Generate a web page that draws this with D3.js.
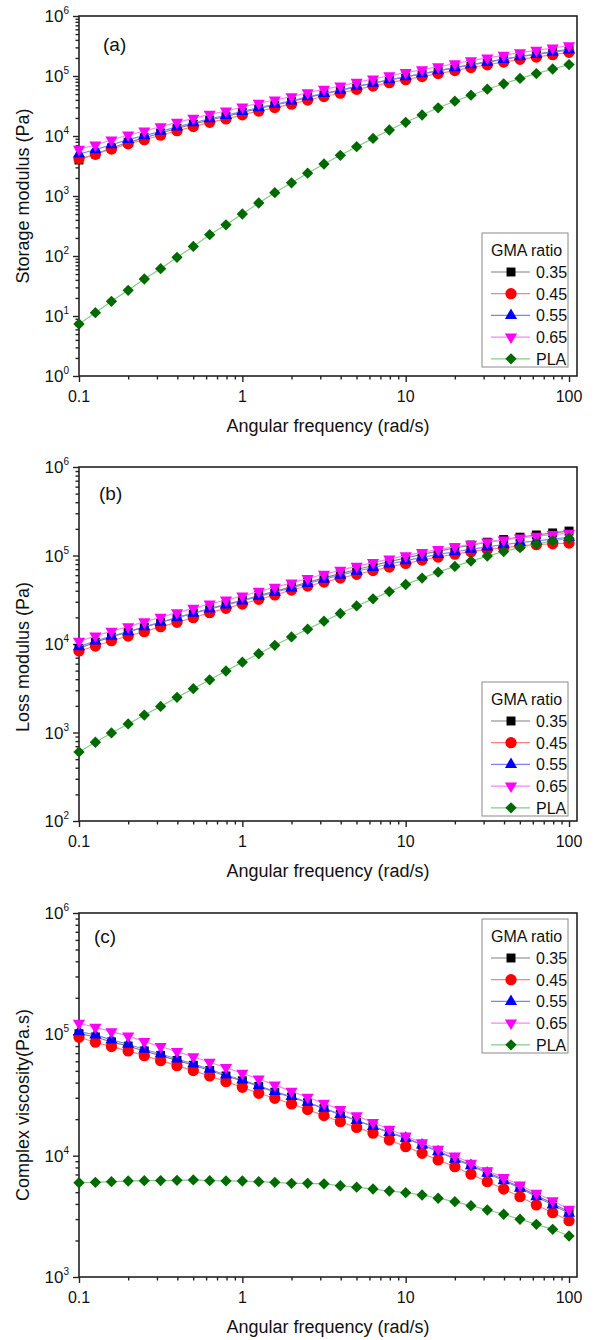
<!DOCTYPE html>
<html>
<head>
<meta charset="utf-8">
<script src="https://cdn.jsdelivr.net/npm/d3@7"></script>
<style>
  body { margin: 0; background: #fff; }
  svg { font-family: "Liberation Sans", Arial, sans-serif; display: block; }
</style>
</head>
<body>
<svg id="chart"></svg>
<script>
// Dynamic frequency sweeps of PLA / GMA blends: G', G'' and |eta*| vs angular frequency

const width = 594, height = 1340;

// angular frequency (rad/s), 10 points per decade
const freq = [0.1, 0.126, 0.158, 0.2, 0.251, 0.316, 0.398, 0.501, 0.631, 0.794,
  1, 1.26, 1.58, 2, 2.51, 3.16, 3.98, 5.01, 6.31, 7.94,
  10, 12.6, 15.8, 20, 25.1, 31.6, 39.8, 50.1, 63.1, 79.4, 100];

const seriesNames = ["0.35", "0.45", "0.55", "0.65", "PLA"];

// (a) storage modulus, Pa
const storage035 = [3981, 5012, 6310, 7852, 9333, 11220, 13340, 15740, 18490, 21130,
  24770, 28770, 32890, 37580, 44160, 50470, 57540, 66530, 75680, 86100,
  96830, 108900, 122500, 137700, 154900, 172200, 191400, 212800, 232800, 254700, 278000];
const storage045 = [4169, 4955, 6067, 7396, 8670, 10300, 12250, 14350, 16870, 19230,
  22540, 26120, 29790, 33960, 39810, 45500, 51640, 59840, 67920, 77450,
  86900, 97720, 109600, 123300, 138400, 153800, 170600, 189700, 207000, 227000, 248300];
const storage055 = [5010, 5915, 7161, 8710, 10140, 11970, 14160, 16560, 19360, 22030,
  25700, 29720, 33800, 38460, 44980, 51170, 58070, 66990, 76030, 86300,
  96830, 108600, 121900, 136800, 153500, 170200, 188800, 209400, 228600, 250000, 272300];
const storage065 = [6030, 7080, 8570, 10400, 12100, 14300, 16900, 19700, 23000, 26100,
  30400, 35100, 39800, 45200, 52700, 60000, 68100, 78500, 89100, 101000,
  114000, 127000, 143000, 160000, 180000, 200000, 221000, 245000, 268000, 293000, 320000];
const storagePLA = [7.36, 11.35, 17.58, 26.79, 41.4, 61.5, 95.1, 144.5, 227, 331,
  501, 764, 1135, 1660, 2399, 3412, 4764, 6637, 9120, 12590,
  16900, 22390, 29510, 38020, 47860, 60260, 74130, 91200, 109600, 130900, 154900];

// (b) loss modulus, Pa
const loss035 = [8910, 10470, 12020, 13650, 15490, 17580, 19860, 22390, 25120, 27990,
  31190, 35320, 39450, 44260, 49770, 55850, 62370, 69500, 77090, 85110,
  93760, 102800, 112200, 121600, 131200, 141300, 151400, 161100, 170600, 179900, 188800];
const loss045 = [8340, 9480, 10890, 12300, 13770, 15700, 17580, 19820, 22590, 25290,
  28310, 31990, 35810, 40740, 45190, 50120, 55590, 61380, 67610, 74130,
  81280, 88720, 96160, 103500, 110400, 117000, 123000, 128200, 132400, 135800, 138000];
const loss055 = [9330, 10810, 12270, 13800, 15630, 17620, 19860, 22230, 24890, 27610,
  30620, 34590, 38460, 43050, 48310, 53950, 59980, 66370, 73110, 80170,
  87500, 95280, 102800, 110200, 117500, 125000, 132400, 139600, 146600, 153500, 160700];
const loss065 = [10720, 12300, 13960, 15700, 17780, 20040, 22590, 25290, 28310, 31410,
  34830, 39360, 43750, 48980, 54950, 61380, 68230, 75510, 83180, 91200,
  99540, 108400, 117000, 125300, 133700, 141900, 150000, 157800, 165200, 172200, 178600];
const lossPLA = [603, 776, 989, 1250, 1574, 1972, 2495, 3126, 3936, 4955,
  6237, 7762, 9660, 12020, 14720, 18110, 22130, 26920, 32360, 39080,
  46990, 55590, 64860, 75340, 86500, 98400, 110900, 123000, 134900, 146200, 156700];

// (c) complex viscosity, Pa.s
const visc035 = [101200, 95060, 86700, 79980, 72950, 66830, 60950, 55590, 50350, 45390,
  41400, 37240, 33340, 30410, 27350, 24430, 21830, 19500, 17420, 15560,
  14000, 12360, 10910, 9462, 8414, 7295, 6353, 5508, 4710, 4036, 3451];
const visc045 = [94620, 86100, 79250, 72950, 66680, 60670, 55210, 50230, 45390, 40740,
  36640, 32660, 29720, 26670, 23990, 21380, 19050, 17100, 15310, 13460,
  11860, 10470, 9226, 8110, 7031, 6109, 5309, 4592, 3926, 3388, 2911];
const visc055 = [105200, 98860, 89950, 82790, 75340, 68870, 62660, 57020, 51520, 46240,
  42070, 37760, 33730, 30690, 27540, 24550, 21880, 19500, 17380, 15490,
  13900, 12250, 10790, 9333, 8279, 7161, 6223, 5383, 4592, 3926, 3350];
const visc065 = [123300, 114300, 105200, 97050, 87100, 79430, 72110, 65310, 58880, 53210,
  47750, 42850, 38280, 33880, 30270, 26980, 23990, 21280, 18750, 16520,
  14520, 12790, 11300, 9954, 8650, 7516, 6592, 5728, 4898, 4256, 3614];
const viscPLA = [5984, 6026, 6109, 6180, 6223, 6237, 6266, 6310, 6223, 6194,
  6180, 6109, 6026, 5916, 5916, 5861, 5649, 5495, 5309, 5117,
  4955, 4742, 4457, 4178, 3873, 3565, 3289, 2992, 2716, 2472, 2178];

const panels = [
  { tag: "(a)", title: "Storage modulus (Pa)", yMin: 1, data: [storage035, storage045, storage055, storage065, storagePLA] },
  { tag: "(b)", title: "Loss modulus (Pa)", yMin: 1e2, data: [loss035, loss045, loss055, loss065, lossPLA] },
  { tag: "(c)", title: "Complex viscosity(Pa.s)", yMin: 1e3, data: [visc035, visc045, visc055, visc065, viscPLA] }
];

// layout of each panel (pixels)
const layout = [
  { top: 16, bottom: 376, tagX: 103, tagY: 51, legendTop: 233, titleShift: 0 },
  { top: 467, bottom: 821, tagX: 99, tagY: 500, legendTop: 682, titleShift: 13 },
  { top: 913, bottom: 1277, tagX: 94, tagY: 943, legendTop: 919, titleShift: 10 }
];

const plotLeft = 79, plotRight = 577;
const markColor = ["#000000", "#ff0000", "#0000ff", "#ff00ff", "#006a00"];
const lineColor = ["#808080", "#ff8080", "#8080ff", "#ff80ff", "#86cc86"];
const symbols = [
  d3.symbol().type(d3.symbolSquare).size(80),
  d3.symbol().type(d3.symbolCircle).size(100),
  d3.symbol().type(d3.symbolTriangle).size(64),
  d3.symbol().type(d3.symbolTriangle).size(64),
  d3.symbol().type(d3.symbolSquare).size(64)
];
const symRotate = [0, 0, 0, 180, 45];

const svg = d3.select("#chart")
  .attr("width", width)
  .attr("height", height)
  .attr("viewBox", [0, 0, width, height]);

const x = d3.scaleLog().domain([0.1, 111.9]).range([plotLeft, plotRight]);
const xMajor = [0.1, 1, 10, 100];
const xMinor = [];
for (const dec of [0.1, 1, 10]) for (let k = 2; k <= 9; k++) xMinor.push(+(k * dec).toPrecision(3));

panels.forEach((p, i) => {
  const L = layout[i];
  const y = d3.scaleLog().domain([p.yMin, 1e6]).range([L.bottom, L.top]);
  const g = svg.append("g");

  const eMin = Math.round(Math.log10(p.yMin));
  const yMajor = d3.range(eMin, 7).map(e => Math.pow(10, e));
  const yMinor = [];
  for (let e = eMin; e < 6; e++) for (let k = 2; k <= 9; k++) yMinor.push(k * Math.pow(10, e));

  // axes: ticks outward
  const xAxis = g.append("g").attr("transform", `translate(0,${L.bottom})`);
  xAxis.call(d3.axisBottom(x).tickValues(xMajor).tickSize(6).tickFormat(""));
  xAxis.append("g").call(d3.axisBottom(x).tickValues(xMinor).tickSize(3.5).tickFormat(""));
  xAxis.selectAll(".domain").remove();

  const yAxis = g.append("g").attr("transform", `translate(${plotLeft},0)`);
  yAxis.call(d3.axisLeft(y).tickValues(yMajor).tickSize(6).tickFormat(""));
  yAxis.append("g").call(d3.axisLeft(y).tickValues(yMinor).tickSize(3.5).tickFormat(""));
  yAxis.selectAll(".domain").remove();

  g.selectAll(".tick line").attr("stroke", "#222").attr("stroke-width", 1.4);

  // frame
  g.append("rect")
    .attr("x", plotLeft).attr("y", L.top)
    .attr("width", plotRight - plotLeft).attr("height", L.bottom - L.top)
    .attr("fill", "none").attr("stroke", "#222").attr("stroke-width", 1.6);

  // x tick labels
  g.append("g").selectAll("text")
    .data(xMajor)
    .join("text")
    .attr("x", d => x(d))
    .attr("y", L.bottom + 26)
    .attr("text-anchor", "middle")
    .attr("font-size", 16)
    .attr("fill", "#111")
    .text(d => d3.format("~g")(d));

  // y tick labels as 10^n
  const yl = g.append("g").selectAll("text")
    .data(yMajor)
    .join("text")
    .attr("x", 69)
    .attr("y", d => y(d) + 6)
    .attr("text-anchor", "end")
    .attr("fill", "#111");
  yl.append("tspan").attr("font-size", 17).text("10");
  yl.append("tspan").attr("font-size", 10).attr("dy", -8).text(d => Math.round(Math.log10(d)));

  // axis titles
  g.append("text")
    .attr("x", (plotLeft + plotRight) / 2)
    .attr("y", L.bottom + 56)
    .attr("text-anchor", "middle")
    .attr("font-size", 18)
    .attr("fill", "#111")
    .text("Angular frequency (rad/s)");

  g.append("text")
    .attr("transform", `translate(29,${(L.top + L.bottom) / 2 + L.titleShift}) rotate(-90)`)
    .attr("text-anchor", "middle")
    .attr("font-size", 18)
    .attr("fill", "#111")
    .text(p.title);

  g.append("text")
    .attr("x", L.tagX).attr("y", L.tagY)
    .attr("font-size", 19)
    .attr("fill", "#111")
    .text(p.tag);

  // series: line then markers
  const line = d3.line().x((d, j) => x(freq[j])).y(d => y(d));
  p.data.forEach((vals, s) => {
    g.append("path")
      .datum(vals)
      .attr("d", line)
      .attr("fill", "none")
      .attr("stroke", lineColor[s])
      .attr("stroke-width", 1.2);
    g.append("g").selectAll("path")
      .data(vals)
      .join("path")
      .attr("d", symbols[s])
      .attr("transform", (d, j) => `translate(${x(freq[j])},${y(d)}) rotate(${symRotate[s]})`)
      .attr("fill", markColor[s]);
  });

  // legend
  const lg = g.append("g").attr("transform", `translate(482,${L.legendTop})`);
  lg.append("rect")
    .attr("width", 86).attr("height", 134)
    .attr("fill", "#fff").attr("stroke", "#8a8a8a").attr("stroke-width", 1);
  lg.append("text")
    .attr("x", 9).attr("y", 23)
    .attr("font-size", 16).attr("fill", "#111")
    .text("GMA ratio");
  const item = lg.selectAll(".item")
    .data(seriesNames)
    .join("g")
    .attr("transform", (d, s) => `translate(0,${39 + s * 21.7})`);
  item.append("line")
    .attr("x1", 9).attr("x2", 48)
    .attr("stroke", (d, s) => lineColor[s]).attr("stroke-width", 1.2);
  item.append("path")
    .attr("d", (d, s) => symbols[s]())
    .attr("transform", (d, s) => `translate(29,0) rotate(${symRotate[s]})`)
    .attr("fill", (d, s) => markColor[s]);
  item.append("text")
    .attr("x", 54).attr("y", 6)
    .attr("font-size", 16).attr("fill", "#111")
    .text(d => d);
});
</script>
</body>
</html>
